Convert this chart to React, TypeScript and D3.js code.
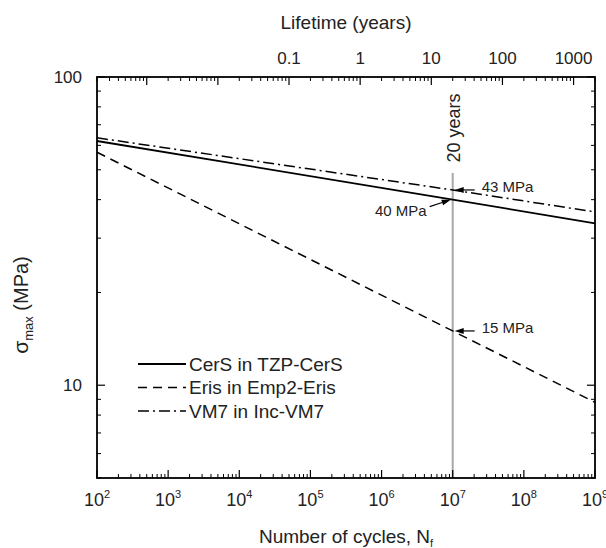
import React from "react";
import * as d3 from "d3";

// ---- data ----
const cycles = [1e2, 1e7, 1e9];
const cersValues = [62, 40, 33.5];
const erisValues = [57, 15, 8.8];
const vm7Values = [63.5, 43, 36.5];
const seriesNames = ["CerS in TZP-CerS", "Eris in Emp2-Eris", "VM7 in Inc-VM7"];
const xTickExponents = [2, 3, 4, 5, 6, 7, 8, 9];
const yTickLabels = [10, 100];
const yearTickLabels = [0.1, 1, 10, 100, 1000];
const cyclesPerYear = 5e5; // 20 years = 1e7 cycles
const markYears = 20;
const annotations = [
  { value: 43, label: "43 MPa", side: "right" },
  { value: 40, label: "40 MPa", side: "left" },
  { value: 15, label: "15 MPa", side: "right" },
];

const W = 606, H = 548;
const L = 97, R = 595, T = 77, B = 478;
const FONT = "'Liberation Sans', Arial, Helvetica, sans-serif";
const INK = "#222";

export default function App() {
  const x = d3.scaleLog().domain([1e2, 1e9]).range([L, R]);
  const y = d3.scaleLog().domain([5, 100]).range([B, T]);

  const line = d3
    .line<[number, number]>()
    .x((d) => x(d[0]))
    .y((d) => y(d[1]));

  const series = [
    { name: seriesNames[0], vals: cersValues, dash: undefined as string | undefined, w: 1.8 },
    { name: seriesNames[1], vals: erisValues, dash: "9,6", w: 1.5 },
    { name: seriesNames[2], vals: vm7Values, dash: "11,4,2,4", w: 1.5 },
  ];

  // ticks
  const xMinor: number[] = [];
  for (let k = 2; k < 9; k++) for (let m = 2; m <= 9; m++) xMinor.push(m * Math.pow(10, k));
  const yMinor: number[] = [];
  [1, 10].forEach((p) => {
    for (let m = 2; m <= 9; m++) {
      const v = m * p;
      if (v >= 5 && v < 100 && v !== 10) yMinor.push(v);
    }
  });
  const yrMajor: number[] = [];
  const yrMinor: number[] = [];
  for (let k = -4; k <= 3; k++) {
    const p = Math.pow(10, k);
    if (p * cyclesPerYear >= 1e2 && p * cyclesPerYear <= 1e9) yrMajor.push(p);
    for (let m = 2; m <= 9; m++) {
      const v = m * p * cyclesPerYear;
      if (v >= 1e2 * 0.999 && v <= 1e9 * 1.001) yrMinor.push(m * p);
    }
  }

  const x20 = x(markYears * cyclesPerYear);

  return (
    <svg
      width={W}
      height={H}
      style={{ position: "absolute", left: 0, top: 0, background: "#fff" }}
      fontFamily={FONT}
    >
      <rect x={0} y={0} width={W} height={H} fill="#fff" />
      {/* 20 years vertical line */}
      <line x1={x20} x2={x20} y1={173} y2={B} stroke="#a8a8a8" strokeWidth={2} />
      <text
        transform={`translate(${x20 + 7},128) rotate(-90)`}
        textAnchor="middle"
        fontSize={18}
        fill={INK}
      >
        20 years
      </text>

      {/* series lines */}
      {series.map((s, i) => (
        <path
          key={i}
          d={line(cycles.map((c, j) => [c, s.vals[j]]) as [number, number][]) || ""}
          fill="none"
          stroke="#000"
          strokeWidth={s.w}
          strokeDasharray={s.dash}
        />
      ))}

      {/* frame */}
      <rect x={L} y={T} width={R - L} height={B - T} fill="none" stroke="#000" strokeWidth={1.8} />

      {/* bottom ticks: cycles */}
      {xTickExponents.map((e) => (
        <line key={"xm" + e} x1={x(Math.pow(10, e))} x2={x(Math.pow(10, e))} y1={B} y2={B - 8} stroke="#000" strokeWidth={1.2} />
      ))}
      {xMinor.map((v, i) => (
        <line key={"xn" + i} x1={x(v)} x2={x(v)} y1={B} y2={B - 4} stroke="#000" strokeWidth={1} />
      ))}
      {/* top ticks: years */}
      {yrMajor.map((v, i) => (
        <line key={"tm" + i} x1={x(v * cyclesPerYear)} x2={x(v * cyclesPerYear)} y1={T} y2={T + 8} stroke="#000" strokeWidth={1.2} />
      ))}
      {yrMinor.map((v, i) => (
        <line key={"tn" + i} x1={x(v * cyclesPerYear)} x2={x(v * cyclesPerYear)} y1={T} y2={T + 4} stroke="#000" strokeWidth={1} />
      ))}
      {/* left & right ticks */}
      {yTickLabels.map((v) => (
        <g key={"ym" + v}>
          <line x1={L} x2={L + 8} y1={y(v)} y2={y(v)} stroke="#000" strokeWidth={1.2} />
          <line x1={R} x2={R - 8} y1={y(v)} y2={y(v)} stroke="#000" strokeWidth={1.2} />
        </g>
      ))}
      {yMinor.map((v, i) => (
        <g key={"yn" + i}>
          <line x1={L} x2={L + 4} y1={y(v)} y2={y(v)} stroke="#000" strokeWidth={1} />
          <line x1={R} x2={R - 4} y1={y(v)} y2={y(v)} stroke="#000" strokeWidth={1} />
        </g>
      ))}

      {/* tick labels */}
      {xTickExponents.map((e) => (
        <text key={"xl" + e} x={x(Math.pow(10, e))} y={506} textAnchor="middle" fontSize={18} fill={INK}>
          10
          <tspan dy={-8} fontSize={11}>
            {e}
          </tspan>
        </text>
      ))}
      {yTickLabels.map((v) => (
        <text key={"yl" + v} x={82} y={y(v) + 6} textAnchor="end" fontSize={17} fill={INK}>
          {v}
        </text>
      ))}
      {yearTickLabels.map((v) => (
        <text key={"tl" + v} x={x(v * cyclesPerYear)} y={64} textAnchor="middle" fontSize={17} fill={INK}>
          {String(v)}
        </text>
      ))}

      {/* axis titles */}
      <text x={(L + R) / 2} y={29} textAnchor="middle" fontSize={19} fill={INK}>
        Lifetime (years)
      </text>
      <text x={(L + R) / 2} y={543} textAnchor="middle" fontSize={19} fill={INK}>
        Number of cycles, N
        <tspan dy={4} fontSize={11}>
          f
        </tspan>
      </text>
      <text transform="translate(28,305) rotate(-90)" textAnchor="middle" fontSize={21} fill={INK}>
        σ
        <tspan dy={5} fontSize={13}>
          max
        </tspan>
        <tspan dy={-5} fontSize={20}>
          {" (MPa)"}
        </tspan>
      </text>

      {/* annotations */}
      {annotations.map((a, i) => {
        const yy = y(a.value);
        if (a.side === "right") {
          return (
            <g key={"an" + i}>
              <line x1={x20 + 22} x2={x20 + 9} y1={yy} y2={yy} stroke="#000" strokeWidth={1.2} />
              <polygon points={`${x20 + 2},${yy} ${x20 + 11},${yy - 3} ${x20 + 11},${yy + 3}`} fill="#000" />
              <text x={x20 + 29} y={yy + 2} fontSize={15} fill={INK}>
                {a.label}
              </text>
            </g>
          );
        }
        const x0 = x20 - 23, y0 = yy + 7;
        const ang = Math.atan2(yy - y0, x20 - 2 - x0);
        const hx = x20 - 2, hy = yy;
        const bx = hx - 9 * Math.cos(ang), by = hy - 9 * Math.sin(ang);
        const px = -Math.sin(ang) * 3, py = Math.cos(ang) * 3;
        return (
          <g key={"an" + i}>
            <line x1={x0} y1={y0} x2={bx} y2={by} stroke="#000" strokeWidth={1.2} />
            <polygon points={`${hx},${hy} ${bx + px},${by + py} ${bx - px},${by - py}`} fill="#000" />
            <text x={x20 - 26} y={yy + 16} textAnchor="end" fontSize={15} fill={INK}>
              {a.label}
            </text>
          </g>
        );
      })}

      {/* legend */}
      {series.map((s, i) => {
        const ly = 364 + i * 23.5;
        return (
          <g key={"lg" + i}>
            <line x1={138} x2={186} y1={ly} y2={ly} stroke="#000" strokeWidth={s.w} strokeDasharray={s.dash} />
            <text x={189} y={ly + 6.5} fontSize={19} fill={INK}>
              {s.name}
            </text>
          </g>
        );
      })}
    </svg>
  );
}
